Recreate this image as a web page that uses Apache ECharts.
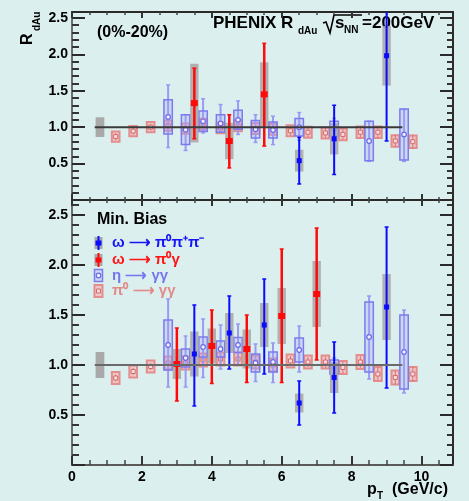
<!DOCTYPE html>
<html>
<head>
<meta charset="utf-8">
<script src="https://cdn.jsdelivr.net/npm/echarts@6/dist/echarts.min.js"></script>
<style>
  html, body { margin: 0; padding: 0; background: #dcefef; }
  #chart { width: 469px; height: 501px; }
</style>
</head>
<body>
<div id="chart"></div>
<script>
// ---- axis tick labels ----
const xTickLabels = [0, 2, 4, 6, 8, 10];
const yTickLabels = [0.5, 1.0, 1.5, 2.0, 2.5];

// ---- normalisation uncertainty (box at R = 1) and unity reference ----
const normPt = 0.8;
const normCentSys = 0.135;
const normMbSys = 0.13;
const unityPt = [0.65, 9.45];

// ---- pi0 -> gamma gamma ----
const pi0Pt = [1.25, 1.75, 2.25, 2.75, 3.25, 3.75, 4.25, 4.75, 5.25, 5.75, 6.25, 6.75, 7.25, 7.75, 8.25, 8.75, 9.25, 9.75];
const pi0CentR = [0.87, 0.945, 1.00, 1.02, 0.98, 1.04, 0.99, 1.02, 0.98, 0.97, 0.95, 0.93, 0.92, 0.90, 0.93, 0.93, 0.81, 0.80];
const pi0CentStat = [0.02, 0.02, 0.02, 0.02, 0.02, 0.025, 0.025, 0.03, 0.03, 0.03, 0.035, 0.04, 0.04, 0.045, 0.05, 0.055, 0.06, 0.07];
const pi0CentSys = [0.07, 0.07, 0.07, 0.07, 0.07, 0.075, 0.075, 0.075, 0.075, 0.075, 0.075, 0.075, 0.075, 0.08, 0.08, 0.08, 0.08, 0.085];
const pi0MbR = [0.87, 0.935, 0.985, 1.02, 1.02, 1.05, 1.06, 1.06, 1.03, 1.00, 1.04, 1.03, 1.03, 0.975, 1.03, 0.91, 0.875, 0.91];
const pi0MbStat = [0.015, 0.015, 0.015, 0.015, 0.02, 0.02, 0.02, 0.02, 0.025, 0.025, 0.03, 0.03, 0.035, 0.04, 0.04, 0.045, 0.05, 0.055];
const pi0MbSys = [0.06, 0.06, 0.06, 0.065, 0.065, 0.065, 0.065, 0.065, 0.065, 0.065, 0.065, 0.065, 0.065, 0.065, 0.07, 0.07, 0.07, 0.07];

// ---- eta -> gamma gamma ----
const etaCentPt = [2.75, 3.25, 3.75, 4.25, 4.75, 5.25, 5.75, 6.5, 7.5, 8.5, 9.5];
const etaCentR = [1.14, 0.965, 1.08, 1.05, 1.10, 0.97, 0.96, 1.00, 0.98, 0.81, 0.90];
const etaCentStatLo = [0.72, 0.68, 0.92, 0.93, 0.90, 0.79, 0.76, 0.82, 0.85, 0.53, 0.53];
const etaCentStatHi = [1.58, 1.17, 1.39, 1.31, 1.36, 1.17, 1.15, 1.20, 1.12, 1.08, 1.24];
const etaCentSys = [0.235, 0.205, 0.14, 0.12, 0.13, 0.12, 0.11, 0.12, 0.10, 0.27, 0.35];
const etaMbPt = [2.75, 3.25, 3.75, 4.25, 4.75, 5.25, 5.75, 6.5, 7.5, 8.5, 9.5];
const etaMbR = [1.20, 1.07, 1.18, 1.16, 1.20, 1.02, 1.03, 1.15, 0.98, 1.28, 1.13];
const etaMbStatLo = [0.78, 0.78, 0.875, 0.96, 1.00, 0.835, 0.825, 0.93, 0.90, 0.86, 0.72];
const etaMbStatHi = [1.66, 1.29, 1.46, 1.40, 1.41, 1.21, 1.22, 1.39, 1.07, 1.69, 1.55];
const etaMbSys = [0.25, 0.09, 0.10, 0.08, 0.075, 0.09, 0.10, 0.12, 0.07, 0.35, 0.37];

// ---- omega -> pi0 pi+ pi- ----
const om3CentPt = [6.5, 7.5, 9.0];
const om3CentR = [0.54, 0.84, 1.98];
const om3CentStatLo = [0.22, 0.35, 0.81];
const om3CentStatHi = [0.86, 1.30, 2.75];
const om3CentSys = [0.15, 0.215, 0.41];
const om3MbPt = [3.5, 4.5, 5.5, 6.5, 7.5, 9.0];
const om3MbR = [1.11, 1.32, 1.40, 0.62, 0.875, 1.58];
const om3MbStatLo = [0.59, 0.96, 0.91, 0.40, 0.52, 0.77];
const om3MbStatHi = [1.60, 1.69, 1.86, 0.84, 1.23, 2.38];
const om3MbSys = [0.225, 0.20, 0.22, 0.095, 0.155, 0.33];

// ---- omega -> pi0 gamma ----
const omgCentPt = [3.5, 4.5, 5.5];
const omgCentR = [1.33, 0.81, 1.45];
const omgCentStatLo = [0.84, 0.44, 0.74];
const omgCentStatHi = [1.81, 1.17, 2.15];
const omgCentSys = [0.54, 0.25, 0.44];
const omgMbPt = [3.0, 4.0, 5.0, 6.0, 7.0];
const omgMbR = [1.01, 1.19, 1.16, 1.49, 1.71];
const omgMbStatLo = [0.64, 0.815, 0.825, 0.825, 1.05];
const omgMbStatHi = [1.37, 1.55, 1.50, 2.16, 2.37];
const omgMbSys = [0.15, 0.175, 0.195, 0.28, 0.33];

// ---- layout / style ----
const FONT = '"Liberation Sans", Arial, Helvetica, sans-serif';
const BG = '#dcefef';
const X_MAX = 10.9;
const Y_MAX = [2.58, 2.65];
const GRIDS = [
  { left: 72, top: 12, width: 381, height: 188 },
  { left: 72, top: 200, width: 381, height: 265 }
];
const OM_HALF = 0.12, ETA_HALF = 0.12, PI0_HALF = 0.11, NORM_HALF = 0.125;
const BLUE = '#0a0aff', RED = '#ff0a0a', ETA_LINE = '#9a9af4', ETA_EDGE = '#7b7bee';
const PINK_EDGE = '#e38d8d', PINK_FILL = 'rgba(243,190,190,0.8)';
const GRAY_BOX = 'rgba(168,168,168,0.88)';

function zip(...cols) { return cols[0].map((_, i) => cols.map(c => c[i])); }

function minorTicks(max, step, every) {
  const out = [];
  for (let i = 1; i * step < max - 1e-6; i++) if (i % every !== 0) out.push(+(i * step).toFixed(3));
  return out;
}
const xMinor = minorTicks(X_MAX, 0.5, 4);
const xMajor = xTickLabels.slice();

function rectOf(api, x0, y0, x1, y1) {
  const a = api.coord([x0, y0]), b = api.coord([x1, y1]);
  return { x: Math.min(a[0], b[0]), y: Math.min(a[1], b[1]), width: Math.abs(b[0] - a[0]), height: Math.abs(b[1] - a[1]) };
}

// axes: for each panel [bottom major, bottom minor, top major, top minor]
function xAxesFor(gi) {
  const base = { type: 'value', gridIndex: gi, min: 0, max: X_MAX, splitLine: { show: false } };
  const lbl = { show: gi === 1, customValues: xMajor, margin: 5, fontFamily: FONT, fontWeight: 'bold', fontSize: 14, color: '#000', formatter: v => String(v) };
  const bottomColor = gi === 1 ? '#5a5a5a' : '#333';
  return [
    Object.assign({}, base, { position: 'bottom', axisLine: { show: true, onZero: false, lineStyle: { color: bottomColor, width: 2 } },
      axisTick: { show: true, inside: true, length: gi === 1 ? 9 : 6, customValues: xMajor, lineStyle: { color: '#333', width: 2 } }, axisLabel: lbl }),
    Object.assign({}, base, { position: 'bottom', axisLine: { show: false, onZero: false },
      axisTick: { show: true, inside: true, length: gi === 1 ? 5 : 3, customValues: xMinor, lineStyle: { color: '#444', width: 1.5 } }, axisLabel: { show: false } }),
    Object.assign({}, base, { position: 'top', axisLine: { show: true, onZero: false, lineStyle: { color: '#2a2a2a', width: 2 } },
      axisTick: { show: true, inside: true, length: 6, customValues: xMajor, lineStyle: { color: '#333', width: 2 } }, axisLabel: { show: false } }),
    Object.assign({}, base, { position: 'top', axisLine: { show: false, onZero: false },
      axisTick: { show: true, inside: true, length: 3, customValues: xMinor, lineStyle: { color: '#444', width: 1.5 } }, axisLabel: { show: false } })
  ];
}

// axes: for each panel [left major, left minor, right major, right minor]
function yAxesFor(gi) {
  const max = Y_MAX[gi];
  const major = [0].concat(yTickLabels);
  const minor = minorTicks(max, 0.1, 5);
  const base = { type: 'value', gridIndex: gi, min: 0, max: max, splitLine: { show: false } };
  return [
    Object.assign({}, base, { position: 'left', axisLine: { show: true, onZero: false, lineStyle: { color: '#6e6e6e', width: 2 } },
      axisTick: { show: true, inside: true, length: 13, customValues: major, lineStyle: { color: '#2a2a2a', width: 2 } },
      axisLabel: { show: true, customValues: yTickLabels, margin: 4, fontFamily: FONT, fontWeight: 'bold', fontSize: 14, color: '#000', formatter: v => v.toFixed(1) } }),
    Object.assign({}, base, { position: 'left', axisLine: { show: false, onZero: false },
      axisTick: { show: true, inside: true, length: 7, customValues: minor, lineStyle: { color: '#333', width: 2 } }, axisLabel: { show: false } }),
    Object.assign({}, base, { position: 'right', axisLine: { show: true, onZero: false, lineStyle: { color: '#2a2a2a', width: 2 } },
      axisTick: { show: true, inside: true, length: 13, customValues: major, lineStyle: { color: '#2a2a2a', width: 2 } }, axisLabel: { show: false } }),
    Object.assign({}, base, { position: 'right', axisLine: { show: false, onZero: false },
      axisTick: { show: true, inside: true, length: 6, customValues: minor, lineStyle: { color: '#333', width: 2 } }, axisLabel: { show: false } })
  ];
}

// ---- renderers ----
function renderPi0(params, api) {
  const x = api.value(0), r = api.value(1), st = api.value(2), sy = api.value(3);
  const c = api.coord([x, r]), t = api.coord([x, r + st]), b = api.coord([x, r - st]);
  return { type: 'group', children: [
    { type: 'rect', shape: rectOf(api, x - PI0_HALF, r + sy, x + PI0_HALF, r - sy), style: { fill: PINK_FILL, stroke: PINK_EDGE, lineWidth: 2 } },
    { type: 'line', shape: { x1: t[0], y1: t[1] - 2, x2: b[0], y2: b[1] + 2 }, style: { stroke: '#d87575', lineWidth: 1 } },
    { type: 'rect', shape: { x: c[0] - 2, y: c[1] - 2, width: 4, height: 4 }, style: { fill: '#f6dede', stroke: '#d46a6a', lineWidth: 1 } }
  ] };
}

function renderEta(params, api) {
  const x = api.value(0), r = api.value(1), lo = api.value(2), hi = api.value(3), sy = api.value(4);
  const c = api.coord([x, r]), t = api.coord([x, hi]), b = api.coord([x, lo]);
  return { type: 'group', children: [
    { type: 'line', shape: { x1: t[0], y1: t[1], x2: b[0], y2: b[1] }, style: { stroke: ETA_LINE, lineWidth: 2 } },
    { type: 'line', shape: { x1: t[0] - 2, y1: t[1], x2: t[0] + 2, y2: t[1] }, style: { stroke: ETA_LINE, lineWidth: 1.5 } },
    { type: 'line', shape: { x1: b[0] - 2, y1: b[1], x2: b[0] + 2, y2: b[1] }, style: { stroke: ETA_LINE, lineWidth: 1.5 } },
    { type: 'rect', shape: rectOf(api, x - ETA_HALF, r + sy, x + ETA_HALF, r - sy), style: { fill: 'rgba(160,160,245,0.28)', stroke: ETA_EDGE, lineWidth: 1.5 } },
    { type: 'circle', shape: { cx: c[0], cy: c[1], r: 2.3 }, style: { fill: '#eeeeff', stroke: '#6a6ae6', lineWidth: 1.2 } }
  ] };
}

function renderGrayBox(params, api) {
  const x = api.value(0), r = api.value(1), sy = api.value(4);
  return { type: 'rect', shape: rectOf(api, x - OM_HALF, r + sy, x + OM_HALF, r - sy), style: { fill: GRAY_BOX } };
}

function renderNorm(params, api) {
  const x = api.value(0), r = api.value(1), sy = api.value(2);
  return { type: 'rect', shape: rectOf(api, x - NORM_HALF, r + sy, x + NORM_HALF, r - sy), style: { fill: '#a9a9a9' } };
}

function makeErrRenderer(color, mw, mh, lw) {
  return function (params, api) {
    const x = api.value(0), r = api.value(1), lo = api.value(2), hi = api.value(3);
    const c = api.coord([x, r]), t = api.coord([x, hi]), b = api.coord([x, lo]);
    return { type: 'group', children: [
      { type: 'line', shape: { x1: t[0], y1: t[1], x2: b[0], y2: b[1] }, style: { stroke: color, lineWidth: lw } },
      { type: 'line', shape: { x1: t[0] - 2, y1: t[1], x2: t[0] + 2, y2: t[1] }, style: { stroke: color, lineWidth: 1.5 } },
      { type: 'line', shape: { x1: b[0] - 2, y1: b[1], x2: b[0] + 2, y2: b[1] }, style: { stroke: color, lineWidth: 1.5 } },
      { type: 'rect', shape: { x: c[0] - mw / 2, y: c[1] - mh / 2, width: mw, height: mh }, style: { fill: color } }
    ] };
  };
}

function panelSeries(gi, d) {
  const ax = { xAxisIndex: gi * 4, yAxisIndex: gi * 4 };
  const common = Object.assign({ type: 'custom', clip: true, silent: true, animation: false }, ax);
  return [
    Object.assign({}, common, { name: 'pi0', renderItem: renderPi0, data: zip(pi0Pt, d.pi0R, d.pi0Stat, d.pi0Sys) }),
    Object.assign({}, common, { name: 'eta', renderItem: renderEta, data: zip(d.etaPt, d.etaR, d.etaLo, d.etaHi, d.etaSys) }),
    Object.assign({}, common, { name: 'norm', renderItem: renderNorm, data: [[normPt, 1, d.norm]] }),
    Object.assign({}, common, { name: 'omgSys', renderItem: renderGrayBox, data: zip(d.omgPt, d.omgR, d.omgLo, d.omgHi, d.omgSys) }),
    Object.assign({}, common, { name: 'om3Sys', renderItem: renderGrayBox, data: zip(d.om3Pt, d.om3R, d.om3Lo, d.om3Hi, d.om3Sys) }),
    Object.assign({ type: 'line', silent: true, animation: false, symbol: 'none', data: unityPt.map(p => [p, 1]),
      lineStyle: { color: gi === 0 ? '#3a3a3a' : '#6a6a6a', width: 2 } }, ax),
    Object.assign({}, common, { name: 'omg', renderItem: makeErrRenderer(RED, 7, 6, 2.5), data: zip(d.omgPt, d.omgR, d.omgLo, d.omgHi, d.omgSys) }),
    Object.assign({}, common, { name: 'om3', renderItem: makeErrRenderer(BLUE, 5, 5, 2), data: zip(d.om3Pt, d.om3R, d.om3Lo, d.om3Hi, d.om3Sys) })
  ];
}

const series = panelSeries(0, {
  pi0R: pi0CentR, pi0Stat: pi0CentStat, pi0Sys: pi0CentSys,
  etaPt: etaCentPt, etaR: etaCentR, etaLo: etaCentStatLo, etaHi: etaCentStatHi, etaSys: etaCentSys,
  om3Pt: om3CentPt, om3R: om3CentR, om3Lo: om3CentStatLo, om3Hi: om3CentStatHi, om3Sys: om3CentSys,
  omgPt: omgCentPt, omgR: omgCentR, omgLo: omgCentStatLo, omgHi: omgCentStatHi, omgSys: omgCentSys,
  norm: normCentSys
}).concat(panelSeries(1, {
  pi0R: pi0MbR, pi0Stat: pi0MbStat, pi0Sys: pi0MbSys,
  etaPt: etaMbPt, etaR: etaMbR, etaLo: etaMbStatLo, etaHi: etaMbStatHi, etaSys: etaMbSys,
  om3Pt: om3MbPt, om3R: om3MbR, om3Lo: om3MbStatLo, om3Hi: om3MbStatHi, om3Sys: om3MbSys,
  omgPt: omgMbPt, omgR: omgMbR, omgLo: omgMbStatLo, omgHi: omgMbStatHi, omgSys: omgMbSys,
  norm: normMbSys
}));

// ---- texts and legend ----
function txt(x, y, s, size, color, extra) {
  return Object.assign({ type: 'text', x: x, y: y, silent: true,
    style: { text: s, font: 'bold ' + size + 'px ' + FONT, fill: color || '#000', textAlign: 'left', textVerticalAlign: 'middle' } }, extra || {});
}
const legendRows = [
  { y: 243, label: 'ω ⟶ π⁰π⁺π⁻', color: '#1414f5', kind: 'om3' },
  { y: 260, label: 'ω ⟶ π⁰γ', color: '#ff1414', kind: 'omg' },
  { y: 275.5, label: 'η ⟶ γγ', color: '#7676ee', kind: 'eta' },
  { y: 291, label: 'π⁰ ⟶ γγ', color: '#e28a8a', kind: 'pi0' }
];
const legendEls = [];
legendRows.forEach(row => {
  const cx = 98.5, cy = row.y;
  if (row.kind === 'om3' || row.kind === 'omg') {
    const col = row.kind === 'om3' ? BLUE : RED;
    legendEls.push({ type: 'rect', shape: { x: cx - 4, y: cy - 6, width: 8, height: 12 }, style: { fill: '#a8a8a8' } });
    legendEls.push({ type: 'line', shape: { x1: cx, y1: cy - 7, x2: cx, y2: cy + 7 }, style: { stroke: col, lineWidth: 2 } });
    legendEls.push({ type: 'rect', shape: { x: cx - 3, y: cy - 2.5, width: 6, height: 5 }, style: { fill: col } });
  } else if (row.kind === 'eta') {
    legendEls.push({ type: 'rect', shape: { x: cx - 4, y: cy - 6, width: 8, height: 12 }, style: { fill: 'rgba(160,160,245,0.28)', stroke: ETA_EDGE, lineWidth: 1.5 } });
    legendEls.push({ type: 'circle', shape: { cx: cx, cy: cy, r: 2.3 }, style: { fill: '#eeeeff', stroke: '#6a6ae6', lineWidth: 1.2 } });
  } else {
    legendEls.push({ type: 'rect', shape: { x: cx - 4, y: cy - 6, width: 8, height: 12 }, style: { fill: PINK_FILL, stroke: PINK_EDGE, lineWidth: 2 } });
    legendEls.push({ type: 'rect', shape: { x: cx - 2, y: cy - 2, width: 4, height: 4 }, style: { fill: '#f6dede', stroke: '#d46a6a', lineWidth: 1 } });
  }
  legendEls.push(txt(112, cy, row.label, 15, row.color));
});

const graphic = [
  // experiment and system label
  txt(213, 23, 'PHENIX R', 17),
  txt(298, 31.5, 'dAu', 10),
  { type: 'polyline', silent: true, shape: { points: [[323, 23], [326, 22], [330, 33], [334, 15], [362, 15]] }, style: { stroke: '#000', lineWidth: 1.6, fill: null } },
  txt(335, 23, 's', 17),
  txt(344, 30.5, 'NN', 10),
  txt(362, 23, '=200GeV', 17),
  // centrality and min-bias labels
  txt(97, 32.5, '(0%-20%)', 16),
  txt(97, 219.5, 'Min. Bias', 16),
  // axis titles
  txt(367, 489.5, 'p', 16),
  txt(377, 496.5, 'T', 10),
  txt(392, 489.5, '(GeV/c)', 16),
  txt(28, 45, 'R', 16, '#000', { rotation: Math.PI / 2 }),
  txt(37.5, 31, 'dAu', 10, '#000', { rotation: Math.PI / 2 })
].concat(legendEls);

const chart = echarts.init(document.getElementById('chart'), null, { renderer: 'canvas', width: 469, height: 501 });
chart.setOption({
  backgroundColor: BG,
  animation: false,
  grid: GRIDS.map(g => Object.assign({ containLabel: false, outerBoundsMode: 'none' }, g)),
  xAxis: xAxesFor(0).concat(xAxesFor(1)),
  yAxis: yAxesFor(0).concat(yAxesFor(1)),
  series: series,
  graphic: graphic
});
</script>
</body>
</html>
